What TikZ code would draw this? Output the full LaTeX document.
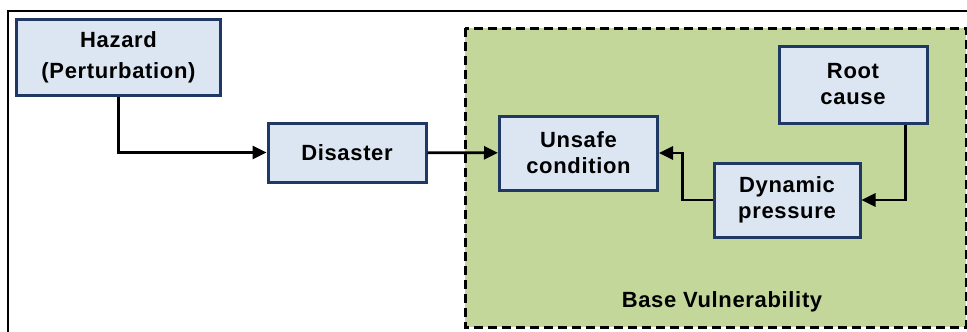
\documentclass[tikz,border=0pt]{standalone}
\usepackage{fontspec}
\setmainfont[LetterSpace=3]{Liberation Sans}
\usetikzlibrary{arrows.meta,positioning}
\definecolor{boxfill}{HTML}{DCE6F2}
\definecolor{boxline}{HTML}{1F3864}
\definecolor{basegreen}{HTML}{C4D79B}

\begin{document}
\begin{tikzpicture}[x=1pt,y=-1pt,
    every node/.style={font=\fontsize{22}{26}\selectfont\bfseries, align=center}]
      \useasboundingbox (0,0) rectangle (967,332);
      % frame round the whole figure
      \draw[line width=2pt] (8,11) rectangle (990,350);
      % base vulnerability area
      \draw[fill=basegreen, line width=3pt, dash pattern=on 9pt off 5pt]
        (465,28) rectangle (966,327);
      \node (BV) at (722,302) {Base Vulnerability};
      \begin{scope}[every node/.append style={rectangle,draw=boxline,fill=boxfill,
          line width=3pt,inner sep=0pt}]
        \node (H)[minimum width=204pt,minimum height=76pt] at (118.5,57) {Hazard\\[5pt](Perturbation)};
        \node (D)[minimum width=158pt,minimum height=59pt] at (347,152.5) {Disaster};
        \node (U)[minimum width=158pt,minimum height=74pt] at (578.5,153) {Unsafe\\condition};
        \node (R)[minimum width=148pt,minimum height=77pt] at (853,84.5) {Root\\cause};
        \node (P)[minimum width=146pt,minimum height=74pt] at (787,200) {Dynamic\\pressure};
      \end{scope}
      \begin{scope}
        [every edge/.style={draw=black, line width=2.8pt,
          -{Triangle[length=14pt,width=13pt]}}]
        \path (H.south) edge[to path={|- (\tikztotarget)}] (D.west);
        \path (D) edge (U);
        \path (P.west) edge[to path={-- ++(-30,0) |- (\tikztotarget)}] (U.east);
        \path ([xshift=-23pt]R.south east) edge[to path={|- (\tikztotarget)}] (P.east);
      \end{scope}
    \end{tikzpicture}
\end{document}
